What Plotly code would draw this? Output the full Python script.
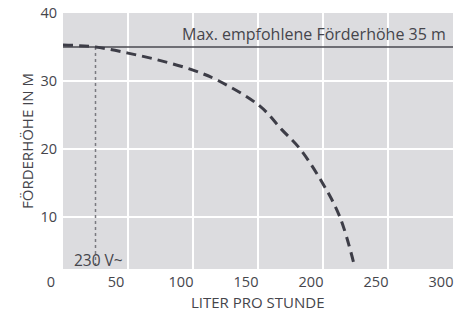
import plotly.graph_objects as go

# Pump curve (flow in L/h vs head in m)
flow = [0, 25, 50, 75, 100, 120, 151.5, 168.3, 182.4, 199.6, 213, 224.5]
head = [35.3, 35.0, 34.1, 33.0, 31.6, 30.0, 26.3, 22.85, 20.0, 15.0, 10.0, 2.6]

max_head_x = [0, 300]
max_head_y = [35, 35]
max_label = "Max. empfohlene Förderhöhe 35 m"

volt_x = [25, 25]
volt_y = [35, 2.35]
volt_label = "230 V~"

x_ticks = [0, 50, 100, 150, 200, 250, 300]
y_ticks = [10, 20, 30, 40]
x_title = "LITER PRO STUNDE"
y_title = "FÖRDERHÖHE IN M"

txt = "#45454b"
font = "Open Sans"

fig = go.Figure()
fig.add_trace(go.Scatter(x=volt_x, y=volt_y, mode="lines",
                         line=dict(color="#7a7a80", width=1.5, dash="3px,3px"),
                         hoverinfo="skip"))
fig.add_trace(go.Scatter(x=max_head_x, y=max_head_y, mode="lines",
                         line=dict(color="#4a4a50", width=1.5), hoverinfo="skip"))
fig.add_trace(go.Scatter(x=flow, y=head, mode="lines",
                         line=dict(color="#3d3d47", width=3, dash="10px,6px", shape="spline"),
                         hoverinfo="skip"))

fig.add_annotation(x=max_head_x[1], y=max_head_y[1], text=max_label, showarrow=False,
                   xanchor="right", yanchor="bottom", xshift=-5, yshift=0,
                   font=dict(family=font, size=16, color=txt))
fig.add_annotation(x=volt_x[0], y=volt_y[1], text=volt_label, showarrow=False,
                   xanchor="center", yanchor="bottom", xshift=3, yshift=-4,
                   font=dict(family=font, size=15.5, color=txt))
fig.add_annotation(x=0.5, y=0, xref="paper", yref="paper", text=x_title, showarrow=False,
                   xanchor="center", yanchor="top", yshift=-21,
                   font=dict(family=font, size=15, color=txt))

fig.update_layout(
    width=467, height=312,
    margin=dict(l=63, r=14, t=13, b=43),
    paper_bgcolor="white", plot_bgcolor="#dcdcdf",
    showlegend=False,
    font=dict(family=font, size=14.5, color=txt),
)
fig.update_xaxes(range=[0, 300], tickvals=x_ticks, ticktext=[str(v) for v in x_ticks],
                 showgrid=True, gridcolor="white", gridwidth=2, zeroline=False,
                 ticklabelshift=-12, ticklabelstandoff=2, automargin=False)
fig.update_yaxes(range=[2.35, 40], tickvals=y_ticks, ticktext=[str(v) for v in y_ticks],
                 showgrid=True, gridcolor="white", gridwidth=2, zeroline=False,
                 ticklabelstandoff=5, automargin=False,
                 title=dict(text=y_title, font=dict(size=15, color=txt), standoff=3))

# remove the page's default body margin so the 467x312 figure fills the window exactly
fig.write_html("out.html", config={"displayModeBar": False},
               post_script="document.body.style.margin='0';")
